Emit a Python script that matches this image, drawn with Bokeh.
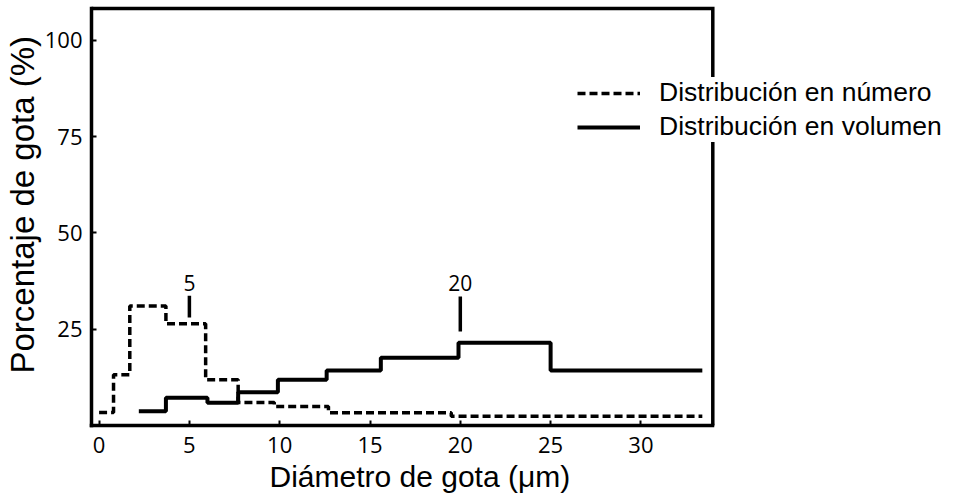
from bokeh.plotting import figure
from bokeh.models import Range1d, FixedTicker, Legend, LegendItem, Title
from bokeh.core.properties import value
from bokeh.embed import file_html
from bokeh.resources import INLINE

# Droplet-size distributions: class edges (µm) and percentage in each class
num_edges = [0.0, 0.8, 1.7, 3.7, 5.9, 7.7, 9.7, 12.7, 19.5, 33.4]
num_pct = [3.4, 13.2, 31.0, 26.4, 11.9, 6.0, 4.9, 3.3, 2.4]

vol_edges = [2.2, 3.7, 6.0, 7.7, 9.9, 12.6, 15.6, 19.9, 25.0, 33.4]
vol_pct = [3.7, 7.2, 5.9, 8.6, 11.9, 14.3, 17.6, 21.5, 14.3]

# Characteristic diameters marked above the curves
mark_x = [5, 20]
mark_text = ["5", "20"]
mark_lo = [28.0, 24.4]
mark_hi = [33.7, 33.5]

x_ticks = [0, 5, 10, 15, 20, 25, 30]
y_ticks = [25, 50, 75, 100]

# Extent of the boxed plotting area (data units); the canvas to the right
# of the box is kept free for the legend
BOX_X = (-0.42, 33.98)
BOX_Y = (0.0, 108.23)

TICK_FONT = "Open Sans"
TEXT_FONT = "Liberation Sans"
BORDER_W = 3.5

p = figure(
    width=961, height=499,
    output_backend="svg", toolbar_location=None,
    x_range=Range1d(BOX_X[0], 47.75), y_range=Range1d(BOX_Y[0], 109.27),
    min_border_left=90, min_border_right=0,
    min_border_top=4, min_border_bottom=74,
)
p.background_fill_color = "white"
p.border_fill_color = "white"
p.outline_line_color = None
p.xgrid.visible = False
p.ygrid.visible = False

for ax, ticks, bounds in ((p.xaxis[0], x_ticks, BOX_X), (p.yaxis[0], y_ticks, BOX_Y)):
    ax.ticker = FixedTicker(ticks=ticks)
    ax.bounds = bounds
    ax.axis_line_color = "black"
    ax.axis_line_width = BORDER_W
    ax.axis_line_cap = "square"
    ax.major_tick_in = 5
    ax.major_tick_out = 0
    ax.major_tick_line_width = 2
    ax.minor_tick_line_color = None
    ax.major_label_text_font = TICK_FONT
    ax.major_label_text_font_size = "22px"
    ax.major_label_text_color = "black"
p.xaxis.major_label_standoff = 11
p.yaxis.major_label_standoff = 9

# Top and right sides of the box
p.line([BOX_X[0], BOX_X[1], BOX_X[1]], [BOX_Y[1], BOX_Y[1], BOX_Y[0]],
       line_color="black", line_width=BORDER_W, line_join="miter",
       line_cap="square")

# Step curves
r_num = p.step(num_edges, num_pct + [num_pct[-1]], mode="after",
               line_color="black", line_width=3.5, line_dash="8 4")
r_vol = p.step(vol_edges, vol_pct + [vol_pct[-1]], mode="after",
               line_color="black", line_width=4)

# Markers for the characteristic diameters
p.segment(x0=mark_x, y0=mark_lo, x1=mark_x, y1=mark_hi,
          line_color="black", line_width=3.5)
p.text(x=mark_x, y=[max(mark_hi) + 3.2] * len(mark_x), text=mark_text,
       text_font=value(TICK_FONT), text_font_size="21px",
       text_align="center", text_baseline="alphabetic", text_color="black")

legend = Legend(
    items=[
        LegendItem(label="Distribución en número", renderers=[r_num]),
        LegendItem(label="Distribución en volumen", renderers=[r_vol]),
    ],
    location=(486, 283),
    glyph_width=63, glyph_height=30, label_height=30,
    label_standoff=19, spacing=3, padding=18, margin=0,
    border_line_color=None, background_fill_color="white",
    background_fill_alpha=1.0,
    label_text_font=TEXT_FONT, label_text_font_size="26.5px",
    label_text_color="black",
)
p.add_layout(legend)

p.add_layout(Title(text="Diámetro de gota (μm)", align="left", offset=178,
                   text_font=TEXT_FONT, text_font_size="30px",
                   text_font_style="normal", text_color="black", standoff=4),
             "below")
p.add_layout(Title(text="Porcentaje de gota (%)", align="left", offset=52,
                   text_font=TEXT_FONT, text_font_size="33px",
                   text_font_style="normal", text_color="black", standoff=2),
             "left")

open("out.html", "w").write(file_html(p, INLINE))
